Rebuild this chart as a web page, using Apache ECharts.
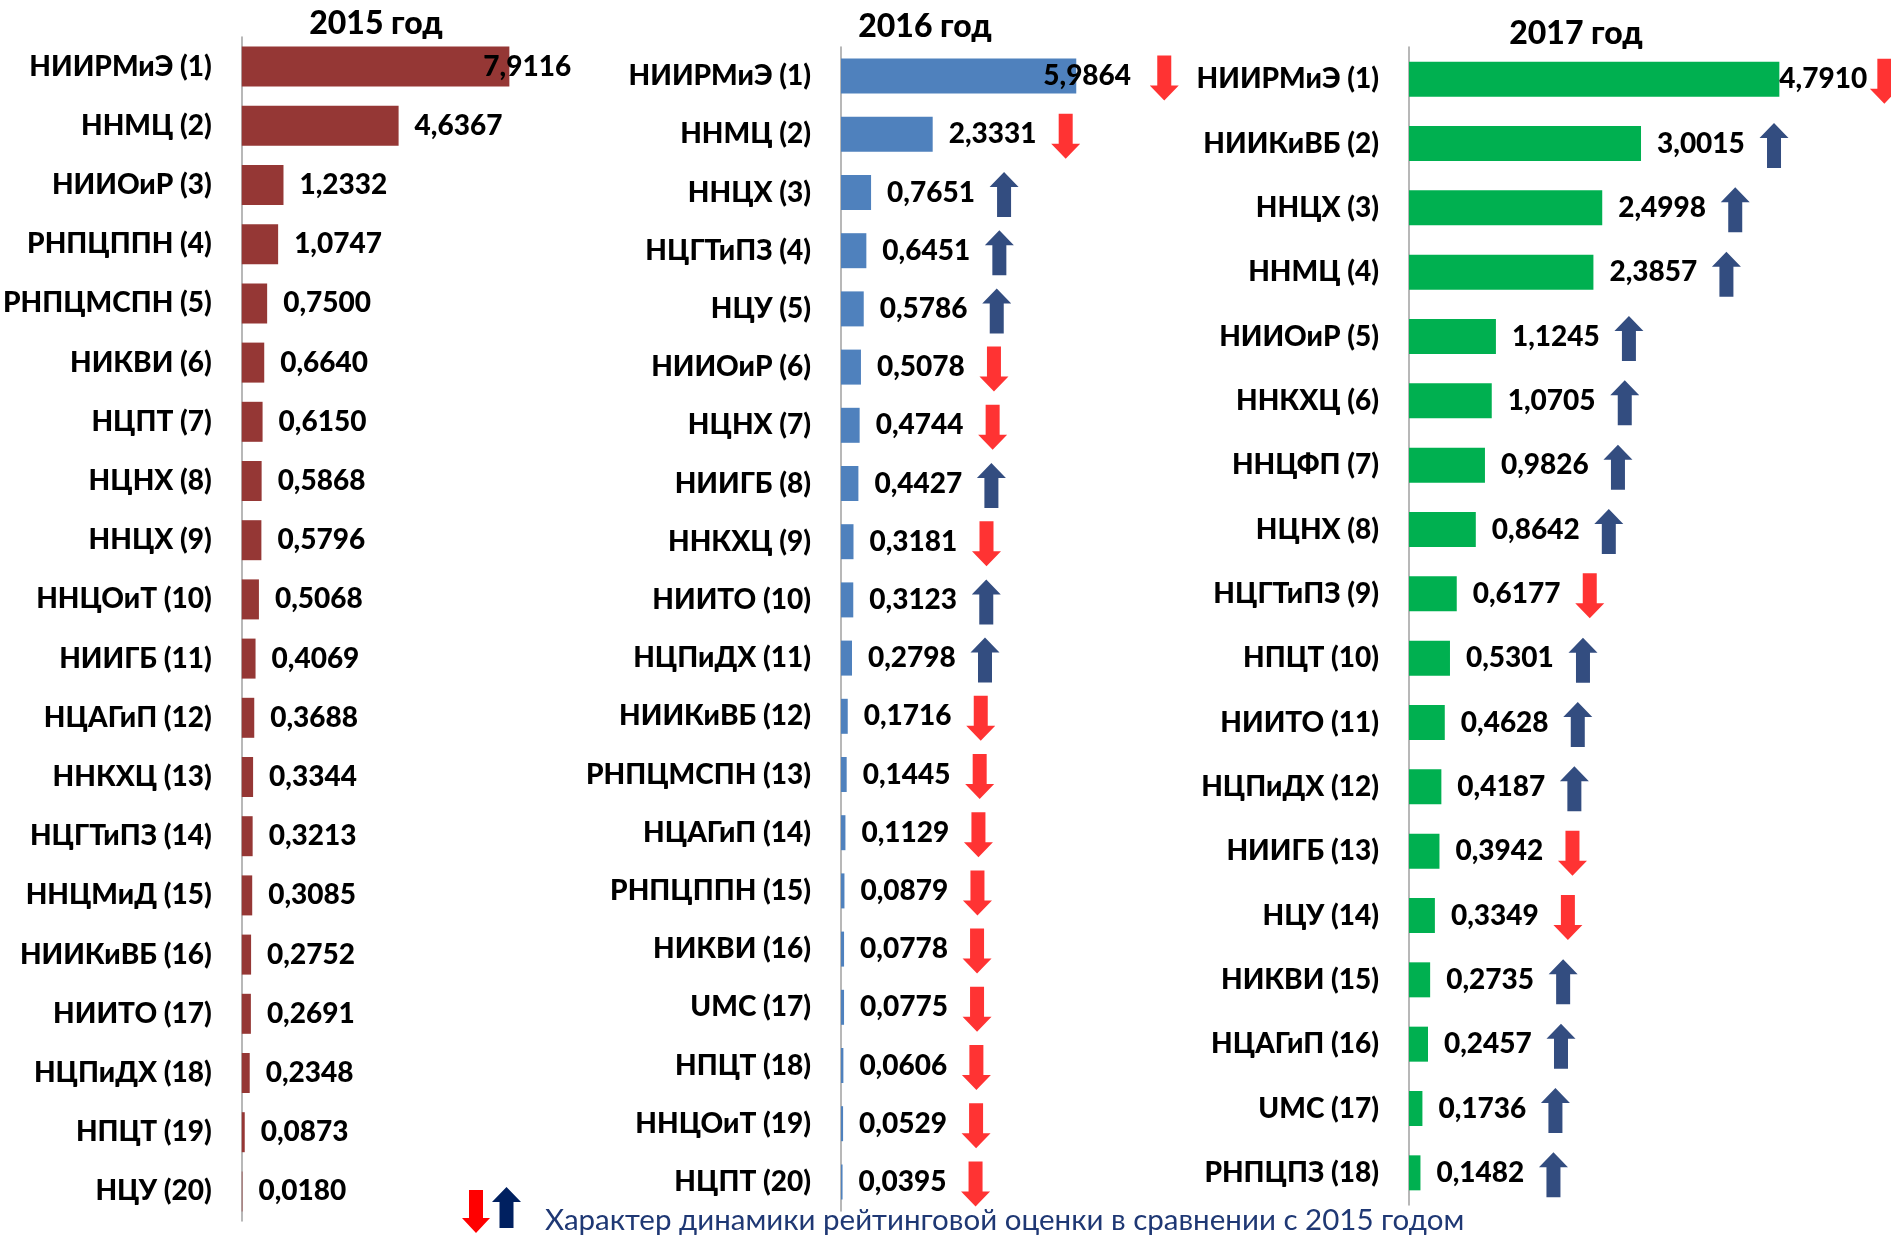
<!DOCTYPE html>
<html><head><meta charset="utf-8">
<script src="https://cdn.jsdelivr.net/npm/echarts@6/dist/echarts.min.js"></script>
<style>html,body{margin:0;padding:0;background:#fff}#c{width:1891px;height:1235px}</style>
</head><body><div id="c"></div>
<script>
const cats2015 = ['НИИРМиЭ (1)','ННМЦ (2)','НИИОиР (3)','РНПЦППН (4)','РНПЦМСПН (5)','НИКВИ (6)','НЦПТ (7)','НЦНХ (8)','ННЦХ (9)','ННЦОиТ (10)','НИИГБ (11)','НЦАГиП (12)','ННКХЦ (13)','НЦГТиПЗ (14)','ННЦМиД (15)','НИИКиВБ (16)','НИИТО (17)','НЦПиДХ (18)','НПЦТ (19)','НЦУ (20)'];
const values2015 = [7.9116,4.6367,1.2332,1.0747,0.7500,0.6640,0.6150,0.5868,0.5796,0.5068,0.4069,0.3688,0.3344,0.3213,0.3085,0.2752,0.2691,0.2348,0.0873,0.0180];

const cats2016 = ['НИИРМиЭ (1)','ННМЦ (2)','ННЦХ (3)','НЦГТиПЗ (4)','НЦУ (5)','НИИОиР (6)','НЦНХ (7)','НИИГБ (8)','ННКХЦ (9)','НИИТО (10)','НЦПиДХ (11)','НИИКиВБ (12)','РНПЦМСПН (13)','НЦАГиП (14)','РНПЦППН (15)','НИКВИ (16)','UMC (17)','НПЦТ (18)','ННЦОиТ (19)','НЦПТ (20)'];
const values2016 = [5.9864,2.3331,0.7651,0.6451,0.5786,0.5078,0.4744,0.4427,0.3181,0.3123,0.2798,0.1716,0.1445,0.1129,0.0879,0.0778,0.0775,0.0606,0.0529,0.0395];
const trend2016 = ['down','down','up','up','up','down','down','up','down','up','up','down','down','down','down','down','down','down','down','down'];

const cats2017 = ['НИИРМиЭ (1)','НИИКиВБ (2)','ННЦХ (3)','ННМЦ (4)','НИИОиР (5)','ННКХЦ (6)','ННЦФП (7)','НЦНХ (8)','НЦГТиПЗ (9)','НПЦТ (10)','НИИТО (11)','НЦПиДХ (12)','НИИГБ (13)','НЦУ (14)','НИКВИ (15)','НЦАГиП (16)','UMC (17)','РНПЦПЗ (18)'];
const values2017 = [4.7910,3.0015,2.4998,2.3857,1.1245,1.0705,0.9826,0.8642,0.6177,0.5301,0.4628,0.4187,0.3942,0.3349,0.2735,0.2457,0.1736,0.1482];
const trend2017 = ['down','up','up','up','up','up','up','up','down','up','up','up','down','down','up','up','up','up'];

const panelTitles = ['2015 год','2016 год','2017 год'];
const legendText = 'Характер динамики рейтинговой оценки в сравнении с 2015 годом';

const FONT = 'Lato';
const WEIGHT = 900;
const RED = '#ff0000', NAVY = '#002060';
const DOWN = 'path://M7.5,0 L21.5,0 L21.5,30 L29,30 L14.5,45 L0,30 L7.5,30 Z';
const UP = 'path://M14.5,0 L29,15 L21.5,15 L21.5,45 L7.5,45 L7.5,15 L0,15 Z';
const fmt = v => v.toFixed(4).replace('.', ',');

const grids = [
  {left:241, top:37, width:339, height:1184},
  {left:841, top:47, width:393, height:1164},
  {left:1409, top:47, width:386.5, height:1158}
];
const maxes = [10, 10, 5];
const colors = ['#953735','#4f81bd','#00b050'];
const firstLabelShift = [-42, -49, -16];
const arrowOffset = [133, 133];
const firstArrowOffset = [88, 105];

const catsAll = [cats2015, cats2016, cats2017];
const valsAll = [values2015, values2016, values2017];
const trendsAll = [null, trend2016, trend2017];

const xAxis = grids.map((g,i)=>({gridIndex:i, type:'value', min:0, max:maxes[i], show:false}));
const yAxis = grids.map((g,i)=>({
  gridIndex:i, type:'category', inverse:true, data:catsAll[i],
  axisTick:{show:false},
  axisLine:{show:true, lineStyle:{color:'#a0a0a0', width:1.5}},
  axisLabel:{margin:30, fontSize:28, fontWeight:WEIGHT, color:'#000', fontFamily:FONT}
}));

const series = [];
valsAll.forEach((vals,i)=>{
  series.push({
    type:'bar', xAxisIndex:i, yAxisIndex:i, barWidth: i===0?40:35,
    itemStyle:{color:colors[i]},
    label:{show:true, position:'right', distance:16, formatter:p=>fmt(p.value),
      fontSize:28, fontWeight:WEIGHT, color:'#000', fontFamily:FONT},
    data: vals.map((v,k)=> k===0 ? {value:v, label:{offset:[firstLabelShift[i],0]}} : v),
    animation:false, silent:true
  });
  if (trendsAll[i]) {
    const tr = trendsAll[i];
    series.push({
      type:'scatter', xAxisIndex:i, yAxisIndex:i, clip:false, symbolSize:[29,45],
      data: vals.map((v,k)=>({
        value:[v, catsAll[i][k]],
        symbol: tr[k]==='up' ? UP : DOWN,
        symbolOffset: [k===0 ? firstArrowOffset[i-1] : arrowOffset[i-1], 2],
        itemStyle:{color: tr[k]==='up' ? NAVY : RED}
      })),
      animation:false, silent:true, z:5
    });
  }
});

const titleX = [376, 925, 1576], titleY = [24, 27, 34];
const graphic = panelTitles.map((t,i)=>({
  type:'text', x:titleX[i], y:titleY[i],
  style:{text:t, fontSize:32, fontWeight:WEIGHT, fill:'#000', fontFamily:FONT, align:'center', verticalAlign:'middle'}
}));
graphic.push({type:'polygon', shape:{points:[[469,1190],[483,1190],[483,1218],[490,1218],[476,1233],[462,1218],[469,1218]]}, style:{fill:RED}});
graphic.push({type:'polygon', shape:{points:[[506.5,1187],[521,1202],[513.5,1202],[513.5,1228],[499.5,1228],[499.5,1202],[492,1202]]}, style:{fill:NAVY}});
graphic.push({type:'text', x:545, y:1220, style:{text:legendText, fontSize:29.5, fill:'#1f3874', fontFamily:FONT, align:'left', verticalAlign:'middle'}});

const chart = echarts.init(document.getElementById('c'), null, {renderer:'canvas'});
chart.setOption({animation:false, grid:grids, xAxis, yAxis, series, graphic});
</script></body></html>
